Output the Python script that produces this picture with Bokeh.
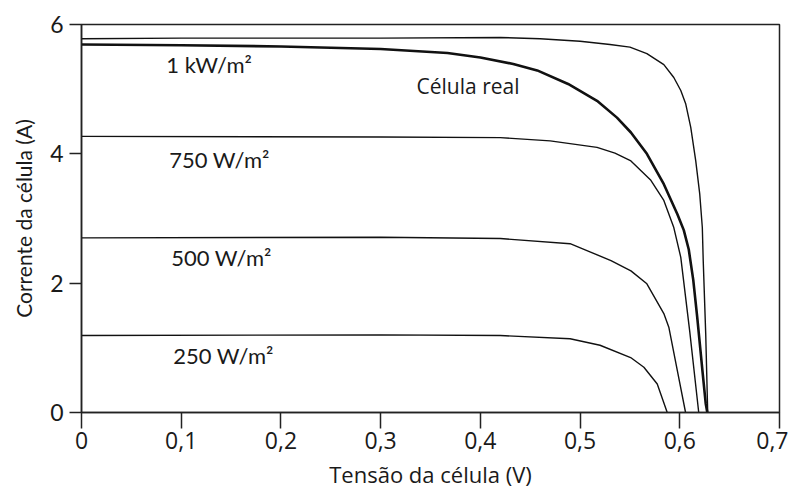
from bokeh.plotting import figure
from bokeh.models import FixedTicker, Range1d, ColumnDataSource
from bokeh.core.properties import value
from bokeh.embed import file_html
from bokeh.resources import INLINE

# ---- data ----
ideal_v = [0.0, 0.1, 0.2, 0.3, 0.42, 0.46, 0.50, 0.53, 0.55, 0.567, 0.584, 0.594, 0.601, 0.606, 0.611, 0.616, 0.620, 0.6226, 0.6235, 0.626, 0.628]
ideal_i = [5.78, 5.79, 5.79, 5.79, 5.80, 5.78, 5.74, 5.69, 5.65, 5.55, 5.38, 5.18, 4.98, 4.77, 4.41, 3.89, 3.38, 2.86, 2.35, 1.22, 0.0]

real_v = [0.0, 0.1, 0.2, 0.3, 0.367, 0.40, 0.433, 0.457, 0.488, 0.517, 0.537, 0.551, 0.567, 0.584, 0.5975, 0.604, 0.609, 0.6135, 0.6175, 0.623, 0.626, 0.6276]
real_i = [5.69, 5.68, 5.66, 5.62, 5.56, 5.49, 5.39, 5.29, 5.08, 4.82, 4.56, 4.33, 4.00, 3.53, 3.07, 2.82, 2.52, 2.05, 1.47, 0.60, 0.14, 0.0]

g750_v = [0.0, 0.3, 0.42, 0.47, 0.517, 0.535, 0.551, 0.571, 0.584, 0.594, 0.601, 0.610, 0.619]
g750_i = [4.27, 4.26, 4.25, 4.20, 4.10, 4.01, 3.89, 3.59, 3.28, 2.86, 2.40, 1.25, 0.0]

g500_v = [0.0, 0.3, 0.42, 0.49, 0.5105, 0.531, 0.551, 0.567, 0.584, 0.589, 0.5975, 0.6058]
g500_i = [2.70, 2.71, 2.69, 2.61, 2.48, 2.35, 2.19, 1.99, 1.53, 1.32, 0.65, 0.0]

g250_v = [0.0, 0.3, 0.42, 0.49, 0.52, 0.5507, 0.564, 0.5774, 0.5874]
g250_i = [1.19, 1.20, 1.19, 1.14, 1.04, 0.85, 0.70, 0.44, 0.0]

x_ticks = [0.0, 0.1, 0.2, 0.3, 0.4, 0.5, 0.6, 0.7]
x_tick_labels = ["0", "0,1", "0,2", "0,3", "0,4", "0,5", "0,6", "0,7"]
y_ticks = [0, 2, 4, 6]
y_tick_labels = ["0", "2", "4", "6"]

label_text = ["1 kW/m²", "750 W/m²", "500 W/m²", "250 W/m²"]
label_x = [0.085, 0.088, 0.090, 0.092]
label_y = [5.38, 3.91, 2.40, 0.88]

real_label = ["Célula real"]
real_label_x = [0.336]
real_label_y = [5.05]

# ---- figure ----
p = figure(frame_width=698, frame_height=388, output_backend="svg", toolbar_location=None,
           x_range=Range1d(0, 0.7), y_range=Range1d(0, 6),
           min_border_left=81, min_border_top=24, min_border_right=9, min_border_bottom=72)
p.background_fill_color = "white"
p.border_fill_color = "white"
p.outline_line_color = "#222222"
p.outline_line_width = 1.5
p.xgrid.visible = False
p.ygrid.visible = False

line_col = "#111111"
p.line(ideal_v, ideal_i, line_color=line_col, line_width=1.4)
p.line(real_v, real_i, line_color=line_col, line_width=2.6)
p.line(g750_v, g750_i, line_color=line_col, line_width=1.4)
p.line(g500_v, g500_i, line_color=line_col, line_width=1.4)
p.line(g250_v, g250_i, line_color=line_col, line_width=1.4)

src = ColumnDataSource(dict(x=label_x, y=label_y, t=label_text))
p.text(x="x", y="y", text="t", source=src, text_font=value("Lato"), text_font_size="22px",
       text_color="#1a1a1a", text_baseline="middle", text_align="left")
src2 = ColumnDataSource(dict(x=real_label_x, y=real_label_y, t=real_label))
p.text(x="x", y="y", text="t", source=src2, text_font=value("Open Sans"), text_font_size="21px",
       text_color="#1a1a1a", text_baseline="middle", text_align="left")

# axes
p.xaxis.ticker = FixedTicker(ticks=x_ticks)
p.xaxis.major_label_overrides = {t: l for t, l in zip(x_ticks, x_tick_labels)}
p.yaxis.ticker = FixedTicker(ticks=y_ticks)
p.yaxis.major_label_overrides = {t: l for t, l in zip(y_ticks, y_tick_labels)}
for ax in (p.xaxis, p.yaxis):
    ax.axis_line_color = "#222222"
    ax.axis_line_width = 1.5
    ax.major_tick_line_color = "#222222"
    ax.major_tick_line_width = 1.5
    ax.major_tick_in = 0
    ax.minor_tick_line_color = None
    ax.major_label_text_color = "#1a1a1a"
    ax.axis_label_text_color = "#1a1a1a"
    ax.axis_label_text_font_style = "normal"
p.xaxis.major_tick_out = 16
p.yaxis.major_tick_out = 12
p.xaxis.major_label_text_font = "Open Sans"
p.xaxis.major_label_text_font_size = "23px"
p.yaxis.major_label_text_font = "Lato"
p.yaxis.major_label_text_font_size = "23px"
p.xaxis.major_label_standoff = 3
p.yaxis.major_label_standoff = 6
p.xaxis.axis_label = "Tensão da célula (V)"
p.yaxis.axis_label = "Corrente da célula (A)"
p.xaxis.axis_label_text_font = "Open Sans"
p.yaxis.axis_label_text_font = "Lato"
p.xaxis.axis_label_text_font_size = "22px"
p.yaxis.axis_label_text_font_size = "21px"
p.xaxis.axis_label_standoff = 7
p.yaxis.axis_label_standoff = 11

open("out.html", "w").write(file_html(p, INLINE))
